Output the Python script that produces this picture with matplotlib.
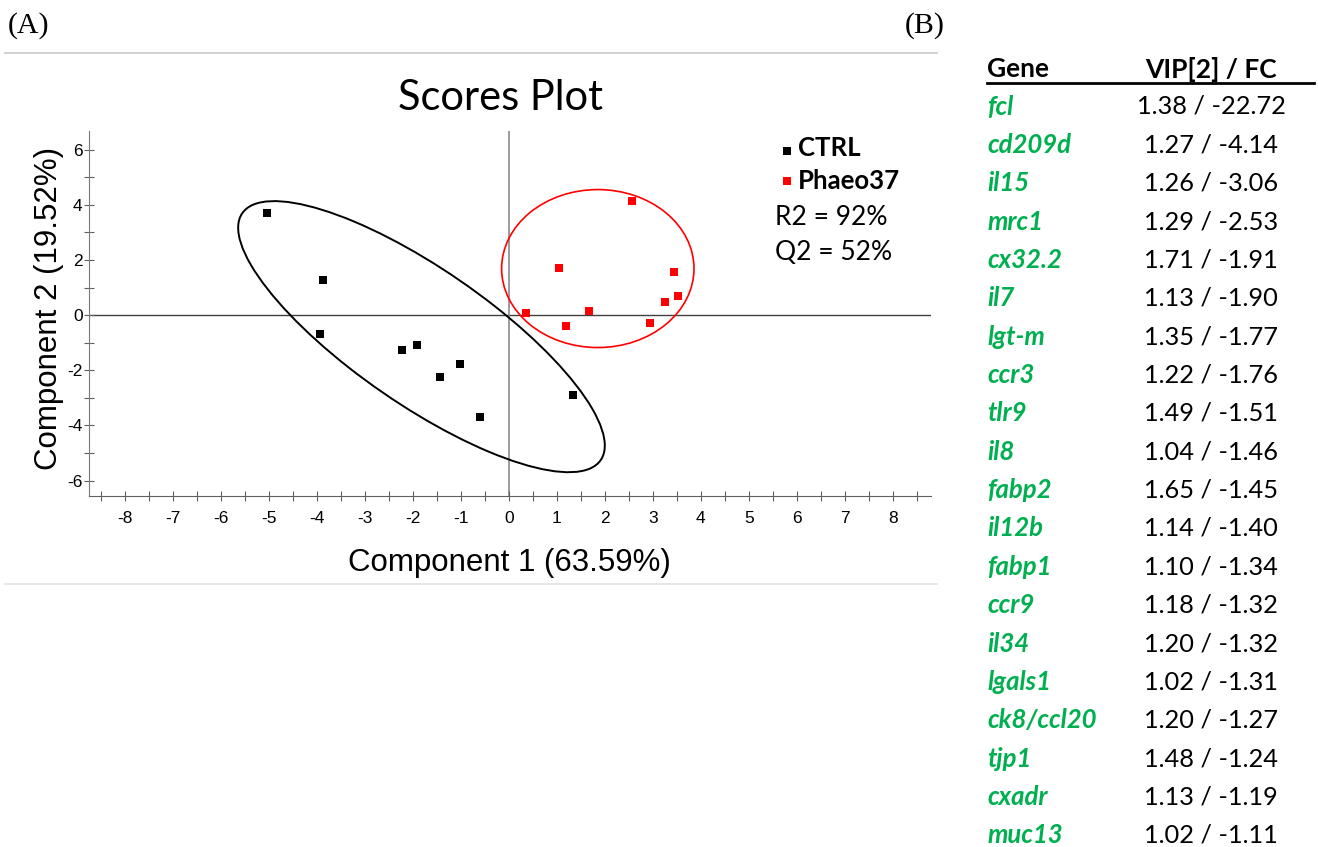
import matplotlib.pyplot as plt
from matplotlib.patches import Ellipse
from matplotlib.lines import Line2D

plt.rcParams["axes.unicode_minus"] = False

# PLS-DA scores (component 1, component 2)
ctrl_x = [-5.05, -3.88, -3.94, -2.22, -1.92, -1.44, -1.01, -0.59, 1.34]
ctrl_y = [3.72, 1.26, -0.70, -1.28, -1.09, -2.25, -1.76, -3.68, -2.91]
phaeo_x = [0.35, 1.05, 1.20, 1.67, 2.56, 2.94, 3.25, 3.44, 3.53]
phaeo_y = [0.07, 1.71, -0.40, 0.16, 4.13, -0.30, 0.49, 1.57, 0.70]

# confidence ellipses: centre, full width, full height, angle (data units)
ctrl_ell = [(-1.82, -0.78), 11.87, 3.77, -53.8]
phaeo_ell = [(1.855, 1.69), 4.01, 5.73, 0.0]

r2_text = "R2 = 92%"
q2_text = "Q2 = 52%"

genes = ["fcl", "cd209d", "il15", "mrc1", "cx32.2", "il7", "lgt-m", "ccr3",
         "tlr9", "il8", "fabp2", "il12b", "fabp1", "ccr9", "il34", "lgals1",
         "ck8/ccl20", "tjp1", "cxadr", "muc13"]
vip = [1.38, 1.27, 1.26, 1.29, 1.71, 1.13, 1.35, 1.22, 1.49, 1.04, 1.65,
       1.14, 1.10, 1.18, 1.20, 1.02, 1.20, 1.48, 1.13, 1.02]
fc = [-22.72, -4.14, -3.06, -2.53, -1.91, -1.90, -1.77, -1.76, -1.51, -1.46,
      -1.45, -1.40, -1.34, -1.32, -1.32, -1.31, -1.27, -1.24, -1.19, -1.11]

W, H = 1318, 847
fig = plt.figure(figsize=(W / 100, H / 100), dpi=100)

def fx(px):
    return px / W

def fy(py):
    return 1 - py / H

calib = ["Lato", "DejaVu Sans"]
arial = ["Liberation Sans", "DejaVu Sans"]
times = ["Liberation Serif", "DejaVu Serif"]

ax = fig.add_axes([fx(89), fy(496), fx(931) - fx(89), fy(131) - fy(496)])
ax.set_xlim(-8.75, 8.8)
ax.set_ylim(-6.56, 6.68)

ax.axhline(0, color="#404040", lw=1.0, zorder=1)
ax.axvline(0, color="#8a8a8a", lw=1.2, zorder=1)

for (c, w, h, a), col, lw in [(ctrl_ell, "black", 1.4), (phaeo_ell, "#ff0000", 1.2)]:
    ax.add_patch(Ellipse(c, w, h, angle=a, fill=False, edgecolor=col, lw=lw, zorder=2))

ax.plot(ctrl_x, ctrl_y, "s", color="black", ms=6, mew=0, ls="none", zorder=3)
ax.plot(phaeo_x, phaeo_y, "s", color="#ff0000", ms=6, mew=0, ls="none", zorder=3)

for s in ["top", "right"]:
    ax.spines[s].set_visible(False)
ax.spines["left"].set_color("#7a7a7a")
ax.spines["bottom"].set_color("#606060")

ax.set_xticks(range(-8, 9))
ax.set_xticks([v + 0.5 for v in range(-9, 9)], minor=True)
ax.set_yticks(range(-6, 7, 2))
ax.set_yticks(range(-5, 7, 2), minor=True)
ax.tick_params(which="both", direction="inout", length=7, width=0.8, color="#606060")
ax.tick_params(axis="x", which="major", pad=7)
ax.tick_params(axis="y", which="major", pad=1)
for lab in ax.get_xticklabels() + ax.get_yticklabels():
    lab.set_fontfamily(arial)
    lab.set_fontsize(12.5)

fig.text(fx(509), fy(563), "Component 1 (63.59%)", fontsize=22.5, family=arial,
         ha="center", va="center")
fig.text(fx(49), fy(308), "Component 2 (19.52%)", fontsize=22.5, family=arial,
         ha="center", va="center", rotation=90)
fig.text(fx(500), fy(98), "Scores Plot", fontsize=30, family=calib,
         ha="center", va="center")

# legend and model statistics
fig.add_artist(Line2D([fx(787)], [fy(151)], marker="s", color="black", ms=5.5, mew=0))
fig.add_artist(Line2D([fx(787)], [fy(181)], marker="s", color="#ff0000", ms=5.5, mew=0))
fig.text(fx(798), fy(148), "CTRL", fontsize=18.5, family=calib, weight="bold",
         ha="left", va="center")
fig.text(fx(798), fy(181), "Phaeo37", fontsize=18.5, family=calib, weight="bold",
         ha="left", va="center")
fig.text(fx(775), fy(217), r2_text, fontsize=19, family=calib, ha="left", va="center")
fig.text(fx(775), fy(253), q2_text, fontsize=19, family=calib, ha="left", va="center")

# panel letters and separators
fig.text(fx(8), fy(26), "(A)", fontsize=21.5, family=times, ha="left", va="center")
fig.text(fx(905), fy(26), "(B)", fontsize=21.5, family=times, ha="left", va="center")
fig.add_artist(Line2D([fx(5), fx(937)], [fy(53), fy(53)], color="#c8c8c8", lw=1.2))
fig.add_artist(Line2D([fx(5), fx(937)], [fy(584), fy(584)], color="#e2e2e2", lw=1.2))

# VIP / fold-change table
fig.text(fx(987), fy(69), "Gene", fontsize=19, family=calib, weight="bold",
         ha="left", va="center")
fig.text(fx(1211), fy(69), "VIP[2] / FC", fontsize=19, family=calib, weight="bold",
         ha="center", va="center")
fig.add_artist(Line2D([fx(987), fx(1314)], [fy(83), fy(83)], color="black", lw=2))

for i, (g, v, f) in enumerate(zip(genes, vip, fc)):
    yc = 106.5 + 38.36 * i
    fig.text(fx(987), fy(yc), g, fontsize=18.5, family=calib, weight="bold",
             style="italic", color="#00b050", ha="left", va="center")
    fig.text(fx(1211), fy(yc), f"{v:.2f} / {f:.2f}", fontsize=18.3, family=calib,
             ha="center", va="center")

fig.savefig("out.png", dpi=100)
